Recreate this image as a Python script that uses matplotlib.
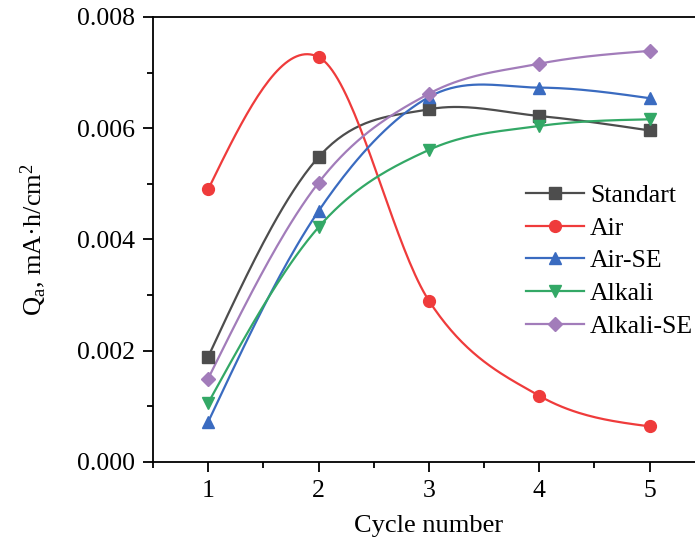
import numpy as np
import matplotlib
matplotlib.use("Agg")
import matplotlib.pyplot as plt
import matplotlib.ticker as ticker

plt.rcParams["font.family"] = ["Liberation Serif", "DejaVu Serif"]
plt.rcParams["mathtext.fontset"] = "custom"
plt.rcParams["mathtext.rm"] = "Liberation Serif"
plt.rcParams["mathtext.it"] = "Liberation Serif:italic"

cycles = [1, 2, 3, 4, 5]
standart = [0.00189, 0.00548, 0.00634, 0.00622, 0.00596]
air = [0.00490, 0.00728, 0.00290, 0.00119, 0.00064]
air_se = [0.00072, 0.00451, 0.00656, 0.00673, 0.00654]
alkali = [0.00106, 0.00422, 0.00561, 0.00604, 0.00616]
alkali_se = [0.00150, 0.00502, 0.00662, 0.00716, 0.00739]

series = [
    ("Standart", standart, "#4d4d4d", "s", 8.5),
    ("Air", air, "#ef3b3b", "o", 8.5),
    ("Air-SE", air_se, "#3a6bc0", "^", 9),
    ("Alkali", alkali, "#33a866", "v", 9),
    ("Alkali-SE", alkali_se, "#a27cba", "D", 7.5),
]


def smooth(x, y, n=40):
    # Catmull-Rom style hermite curve through the points (natural ends)
    x = np.asarray(x, float)
    y = np.asarray(y, float)
    k = len(x)
    m = np.zeros(k)
    for i in range(1, k - 1):
        m[i] = (y[i + 1] - y[i - 1]) / (x[i + 1] - x[i - 1])
    d0 = (y[1] - y[0]) / (x[1] - x[0])
    dn = (y[-1] - y[-2]) / (x[-1] - x[-2])
    m[0] = (3 * d0 - m[1]) / 2
    m[-1] = (3 * dn - m[-2]) / 2
    xs, ys = [], []
    for i in range(k - 1):
        h = x[i + 1] - x[i]
        t = np.linspace(0, 1, n, endpoint=(i == k - 2))
        h00 = 2 * t**3 - 3 * t**2 + 1
        h10 = t**3 - 2 * t**2 + t
        h01 = -2 * t**3 + 3 * t**2
        h11 = t**3 - t**2
        xs.append(x[i] + t * h)
        ys.append(h00 * y[i] + h10 * h * m[i] + h01 * y[i + 1] + h11 * h * m[i + 1])
    return np.concatenate(xs), np.concatenate(ys)


fig = plt.figure(figsize=(6.95, 5.39), dpi=100)
ax = fig.add_axes([0.2201, 0.1429, 0.794, 0.8256])

for label, vals, color, marker, ms in series:
    xs, ys = smooth(cycles, vals)
    ax.plot(xs, ys, color=color, lw=1.6, zorder=2)
    ax.plot(cycles, vals, ls="none", marker=marker, color=color,
            markersize=ms, zorder=3)
    ax.plot([], [], color=color, lw=1.6, marker=marker, markersize=ms,
            label=label)

ax.set_xlim(0.5, 5.5)
ax.set_ylim(0, 0.008)
ax.set_xticks(cycles)
ax.xaxis.set_minor_locator(ticker.MultipleLocator(0.5))
ax.yaxis.set_major_locator(ticker.MultipleLocator(0.002))
ax.yaxis.set_minor_locator(ticker.MultipleLocator(0.001))
ax.yaxis.set_major_formatter(ticker.FormatStrFormatter("%.3f"))

for s in ax.spines.values():
    s.set_linewidth(1.3)
ax.tick_params(axis="both", which="major", direction="out", length=7,
               width=1.3, labelsize=18.5, pad=6)
ax.tick_params(axis="both", which="minor", direction="out", length=4,
               width=1.3)

ax.set_xlabel("Cycle number", fontsize=19, labelpad=9)
ax.set_ylabel(r"Q$_{\rm a}$, mA·h/cm$^{2}$", fontsize=19, labelpad=20)

leg = ax.legend(loc="upper left", bbox_to_anchor=(0.676, 0.625), frameon=False,
                fontsize=18.5, handlelength=2.25, handletextpad=0.25,
                labelspacing=0.38, borderaxespad=0, borderpad=0)

fig.savefig("out.png", dpi=100)
